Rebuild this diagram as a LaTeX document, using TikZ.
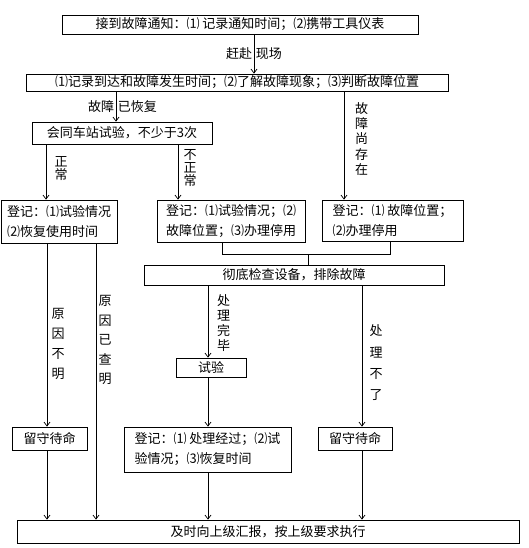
\documentclass[tikz,border=0pt]{standalone}
\usepackage{fontspec}
\setmainfont{Noto Sans CJK SC}
\usetikzlibrary{arrows.meta,positioning}

\begin{document}
\begin{tikzpicture}[
  x=1pt, y=-1pt,
  font=\fontsize{13}{20}\selectfont,
  box/.style={draw, line width=0.8pt, inner sep=0pt, align=center},
  regbox/.style={draw, line width=0.8pt, inner sep=0pt, align=left},
  arr/.style={-{Straight Barb[length=4pt,width=6pt]}, line width=0.7pt},
  lnk/.style={line width=0.7pt},
  lab/.style={inner sep=1.5pt},
  vlab/.style={inner sep=0pt, align=center, font=\fontsize{13}{#1}\selectfont}
]
\useasboundingbox (0,0) rectangle (529,548);
% boxes
\node[box, minimum width=356pt, minimum height=19pt] (notify) at (240,24.5) {接到故障通知：⑴ 记录通知时间；⑵携带工具仪表};
\node[box, minimum width=422pt, minimum height=17pt] (arrive) at (237,82.5) {⑴记录到达和故障发生时间；⑵了解故障现象；⑶判断故障位置};
\node[box, minimum width=180pt, minimum height=22pt] (test) at (122,133) {会同车站试验，不少于3次};
\node[regbox, minimum width=116pt, minimum height=43pt] (regok) at (59,221.5) {登记：⑴试验情况\\⑵恢复使用时间};
\node[regbox, minimum width=148pt, minimum height=42pt] (regbad) at (231,221) {登记：⑴试验情况；⑵\\故障位置；⑶办理停用};
\node[regbox, minimum width=141pt, minimum height=41pt] (regpos) at (392.5,220.5) {登记：⑴ 故障位置；\\⑵办理停用};
\node[box, minimum width=300pt, minimum height=20pt] (check) at (294,275) {彻底检查设备，排除故障};
\node[box, minimum width=70pt, minimum height=19pt] (retest) at (211,367.5) {试验};
\node[box, minimum width=75pt, minimum height=23pt] (waitl) at (49.5,438.5) {留守待命};
\node[regbox, minimum width=167pt, minimum height=45pt] (regfix) at (207.5,449.5) {登记：⑴ 处理经过；⑵试\\验情况；⑶恢复时间};
\node[box, minimum width=74pt, minimum height=23pt] (waitr) at (355,438.5) {留守待命};
\node[box, minimum width=502pt, minimum height=23pt] (report) at (268,531.5) {及时向上级汇报，按上级要求执行};

% connectors
\draw[arr] ([xshift=14pt]notify.south) -- node[left,lab] (goa) {赶赴} node[right,lab] (gob) {现场} ([xshift=17pt]arrive.north);
\draw[arr] ([xshift=-121pt]arrive.south) -- node[left,lab] (oka) {故障} node[right,lab] (okb) {已恢复} ([xshift=-6pt]test.north);
\draw[arr] ([xshift=107pt]arrive.south) -- ([xshift=-48.5pt]regpos.north);
\draw[arr] ([xshift=-76pt]test.south) -- ([xshift=-13pt]regok.north);
\draw[arr] ([xshift=56pt]test.south) -- ([xshift=-53pt]regbad.north);
\draw[lnk] ([xshift=-9pt]regbad.south) -- ++(0,12) -| ([xshift=-2.5pt]regpos.south);
\draw[lnk] ([xshift=14pt]check.north) -- ++(0,-11);
\draw[arr] ([xshift=-86pt]check.south) -- ([xshift=-3pt]retest.north);
\draw[arr] ([xshift=68pt]check.south) -- ([xshift=7pt]waitr.north);
\draw[arr] ([xshift=-3pt]retest.south) -- ([xshift=0.5pt]regfix.north);
\draw[arr] ([xshift=-12pt]regok.south) -- ([xshift=-2.5pt]waitl.north);
\draw[arr] ([xshift=37pt]regok.south) -- ([xshift=-172pt]report.north);
\draw[arr] ([xshift=-2.5pt]waitl.south) -- ([xshift=-221pt]report.north);
\draw[arr] ([xshift=0.5pt]regfix.south) -- ([xshift=-60pt]report.north);
\draw[arr] ([xshift=7pt]waitr.south) -- ([xshift=94pt]report.north);

% vertical labels
\node[vlab=15.4pt] (still) at (361.5,139) {故\\障\\尚\\存\\在};
\node[vlab=13pt] (normal) at (61,169) {正\\常};
\node[vlab=13pt] (abnormal) at (190,168.5) {不\\正\\常};
\node[vlab=15pt] (fixed) at (223.5,323.5) {处\\理\\完\\毕};
\node[vlab=21.3pt] (unfixed) at (376,363) {处\\理\\不\\了};
\node[vlab=20pt] (unknown) at (58,344) {原\\因\\不\\明};
\node[vlab=19.5pt] (known) at (105,340) {原\\因\\已\\查\\明};
\end{tikzpicture}
\end{document}
